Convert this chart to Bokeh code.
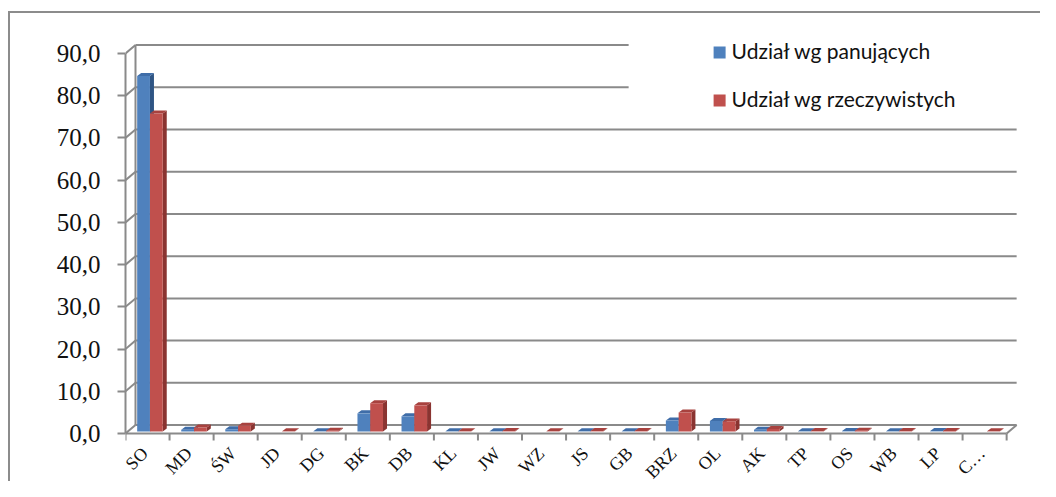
import math
from bokeh.plotting import figure
from bokeh.models import Range1d, FixedTicker
from bokeh.core.properties import value
from bokeh.embed import file_html
from bokeh.resources import INLINE

# ---------------- data ----------------
categories = ["SO", "MD", "ŚW", "JD", "DG", "BK", "DB", "KL", "JW", "WZ",
              "JS", "GB", "BRZ", "OL", "AK", "TP", "OS", "WB", "LP", "C…"]
share_ruling = [84.2, 0.4, 0.55, 0.0, 0.05, 4.3, 3.6, 0.05, 0.05, 0.0,
                0.05, 0.05, 2.6, 2.5, 0.4, 0.05, 0.1, 0.05, 0.1, 0.0]
share_actual = [75.3, 0.95, 1.35, 0.05, 0.2, 6.7, 6.2, 0.05, 0.1, 0.05,
                0.1, 0.1, 4.5, 2.4, 0.6, 0.1, 0.2, 0.1, 0.15, 0.05]
series_names = ["Udział wg panujących", "Udział wg rzeczywistych"]
y_ticks = [0, 10, 20, 30, 40, 50, 60, 70, 80, 90]
y_tick_labels = ["0,0", "10,0", "20,0", "30,0", "40,0", "50,0", "60,0", "70,0", "80,0", "90,0"]

# ---------------- styling / 3-D geometry (data units) ----------------
GRID = "#8A8A8A"
FRONT = ["#4F81BD", "#C0504D"]
TOP = ["#3F6DA8", "#A8423F"]
SIDE = ["#2F5584", "#8A3431"]
n = len(categories)
wall_dx, wall_dy = 0.227, 2.0      # depth of floor / back wall
bar_w = 0.29
bar_ox, bar_oy = 0.055, 0.47        # bar front-face depth position
bar_dx, bar_dy = 0.091, 0.71        # bar depth
tick_len = 1.658                    # floor tick marks below the floor edge
label_dx, label_y = -0.06, -4.0     # category label anchor (end of rotated text)
legend_clear_x, legend_clear_y = 11.42, 75.3   # gridlines stop short of the legend
legend_key_x, legend_text_x = 13.485, 13.757
legend_key_y = [90.24, 78.87]
legend_text_y = [90.71, 79.34]
y_lo, y_hi = -11.37, 95.45

p = figure(width=1040, height=481, output_backend="svg", toolbar_location=None,
           x_range=Range1d(0, 20.36), y_range=Range1d(y_lo, y_hi),
           min_border_left=125, min_border_right=18, min_border_top=30, min_border_bottom=0)
p.outline_line_color = None
p.border_fill_alpha = 0
p.background_fill_alpha = 0
p.styles = {"background": "linear-gradient(#8C8C8C,#8C8C8C) 8px 11px / 1032px 2px no-repeat, "
                          "linear-gradient(#8C8C8C,#8C8C8C) 8px 11px / 2px 470px no-repeat, white"}
p.xgrid.visible = False
p.ygrid.visible = False
p.xaxis.visible = False

# back wall gridlines (short where the legend sits), diagonals, edges, floor ticks
grid_y = [v + wall_dy for v in y_ticks]
grid_end = [legend_clear_x if gy > legend_clear_y else n + wall_dx for gy in grid_y]
p.segment(x0=[wall_dx] * len(y_ticks), y0=grid_y, x1=grid_end, y1=grid_y,
          line_color=GRID, line_width=2)
p.segment(x0=[0] * len(y_ticks), y0=y_ticks, x1=[wall_dx] * len(y_ticks), y1=grid_y,
          line_color=GRID, line_width=2)
p.segment(x0=[wall_dx, n, 0], y0=[wall_dy, 0, 0], x1=[wall_dx, n + wall_dx, n],
          y1=[y_ticks[-1] + wall_dy, wall_dy, 0], line_color=GRID, line_width=2)
p.segment(x0=list(range(n + 1)), y0=[0] * (n + 1), x1=list(range(n + 1)),
          y1=[-tick_len] * (n + 1), line_color=GRID, line_width=2)

# bars
for s, vals in enumerate([share_ruling, share_actual]):
    L, R, B, T = [], [], [], []
    for i, v in enumerate(vals):
        if v <= 0:
            continue
        l = i + 0.5 + bar_ox + (s - 1) * bar_w
        L.append(l); R.append(l + bar_w); B.append(bar_oy); T.append(bar_oy + v)
    side_xs = [[r, r + bar_dx, r + bar_dx, r] for r in R]
    side_ys = [[b, b + bar_dy, t + bar_dy, t] for b, t in zip(B, T)]
    top_xs = [[l, l + bar_dx, r + bar_dx, r] for l, r in zip(L, R)]
    top_ys = [[t, t + bar_dy, t + bar_dy, t] for t in T]
    p.patches(side_xs, side_ys, fill_color=SIDE[s], line_color=None)
    p.patches(top_xs, top_ys, fill_color=TOP[s], line_color=None)
    p.quad(left=L, right=R, bottom=B, top=T, fill_color=FRONT[s], line_color=None)

# legend (keys and labels)
p.scatter(x=[legend_key_x] * 2, y=legend_key_y, marker="square", size=12,
          fill_color=FRONT, line_color=None)
p.text(x=[legend_text_x] * 2, y=legend_text_y, text=series_names,
       text_align="left", text_baseline="middle",
       text_font=value("Lato"), text_font_size="21px", text_color="#111111")

# category labels, rotated 45 degrees, placed on the category scale
p.text(x=[i + 0.5 + label_dx for i in range(n)], y=[label_y] * n, text=categories,
       angle=math.pi / 4, text_align="right", text_baseline="middle",
       text_font=value("Liberation Serif"), text_font_size="18px", text_color="#111111")

# y axis
ya = p.yaxis[0]
ya.ticker = FixedTicker(ticks=y_ticks, minor_ticks=[])
ya.major_label_overrides = {v: lab for v, lab in zip(y_ticks, y_tick_labels)}
ya.major_tick_out = 8
ya.major_tick_in = 0
ya.major_tick_line_color = GRID
ya.major_tick_line_width = 2
ya.axis_line_color = GRID
ya.axis_line_width = 2
ya.bounds = (0, 90)
ya.major_label_standoff = 17
ya.major_label_text_font = "Liberation Serif"
ya.major_label_text_font_size = "25px"
ya.major_label_text_color = "#111111"

open("out.html", "w").write(file_html(p, INLINE))
